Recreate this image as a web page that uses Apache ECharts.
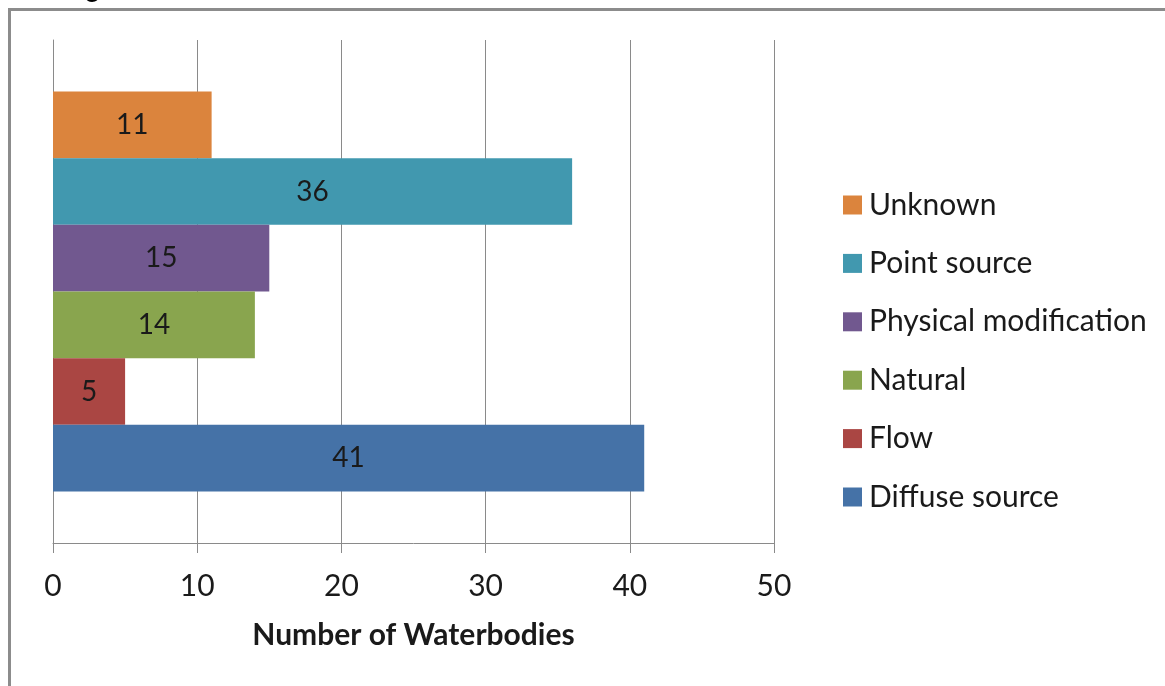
<!DOCTYPE html>
<html>
<head>
<meta charset="utf-8">
<script src="https://cdn.jsdelivr.net/npm/echarts@6/dist/echarts.min.js"></script>
<style>
  html, body { margin: 0; padding: 0; background: #fff; }
  #chart { width: 1165px; height: 686px; }
</style>
</head>
<body>
<div id="chart"></div>
<script>
// top-to-bottom order of the bars
const seriesNames = ['Unknown', 'Point source', 'Physical modification', 'Natural', 'Flow', 'Diffuse source'];
const seriesValues = [11, 36, 15, 14, 5, 41];
const palette = ['#db843d', '#4198af', '#71588f', '#89a54e', '#aa4643', '#4572a7'];
const xMin = 0, xMax = 50, xStep = 10;
const categories = [''];
const axisTitle = 'Number of Waterbodies';
const chartTitle = 'Management Catchment';

const chart = echarts.init(document.getElementById('chart'));

const series = seriesNames.map(function (name, i) {
  return {
    name: name,
    type: 'bar',
    data: [seriesValues[i]],
    barGap: '0%',
    barCategoryGap: '20.5%',
    itemStyle: { color: palette[i] },
    label: {
      show: true,
      position: 'inside',
      color: '#1a1a1a',
      fontFamily: 'Lato',
      fontSize: 28
    },
    silent: true
  };
});

chart.setOption({
  animation: false,
  textStyle: { fontFamily: 'Lato' },
  graphic: [
    {
      type: 'rect',
      shape: { x: 9.5, y: 9.5, width: 1300, height: 800 },
      style: { fill: 'none', stroke: '#8c8c8c', lineWidth: 3 }
    },
    {
      type: 'text',
      left: 18,
      top: -23,
      style: { text: chartTitle, font: 'bold 26px "Liberation Sans"', fill: '#000' }
    }
  ],
  grid: { left: 53, right: 391, top: 40, bottom: 143 },
  legend: {
    orient: 'vertical',
    left: 843,
    top: 190,
    padding: 0,
    data: seriesNames.slice(),
    icon: 'rect',
    itemWidth: 19,
    itemHeight: 19,
    itemGap: 28.4,
    textStyle: { fontFamily: 'Lato', fontSize: 30, color: '#1a1a1a', padding: [0, 0, 0, 2] },
    selectedMode: false
  },
  xAxis: {
    type: 'value',
    min: xMin,
    max: xMax,
    interval: xStep,
    name: axisTitle,
    nameLocation: 'middle',
    nameGap: 77,
    nameTextStyle: { fontFamily: 'Lato', fontWeight: 'bold', fontSize: 30, color: '#1a1a1a' },
    axisLine: { show: true, lineStyle: { color: '#8a8a8a', width: 1 } },
    axisTick: { show: true, length: 10, lineStyle: { color: '#8a8a8a' } },
    axisLabel: { fontFamily: 'Lato', fontSize: 30, color: '#1a1a1a', margin: 28 },
    splitLine: { show: true, lineStyle: { color: '#8a8a8a', width: 1 } }
  },
  yAxis: {
    type: 'category',
    data: categories,
    axisLine: { show: true, lineStyle: { color: '#8a8a8a', width: 1 } },
    axisTick: { show: false },
    axisLabel: { show: false }
  },
  series: series
});
</script>
</body>
</html>
